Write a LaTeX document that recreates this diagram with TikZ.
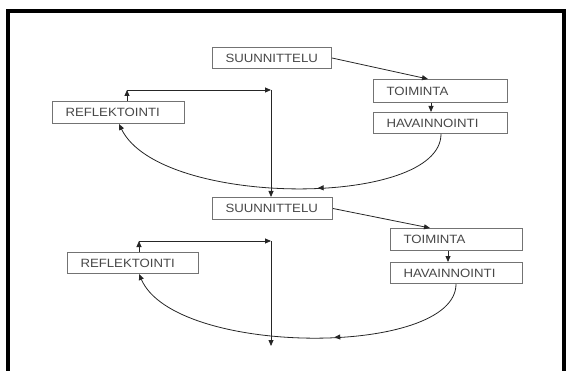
\documentclass[tikz,border=0pt]{standalone}
\usepackage{fontspec}
\setmainfont[FakeStretch=1.1]{Liberation Sans}
\usetikzlibrary{arrows.meta,decorations.markings,calc}
\begin{document}
\begin{tikzpicture}[x=1pt,y=-1pt,
  box/.style={draw=black!55, line width=1pt, inner xsep=13pt, inner ysep=0pt,
    anchor=north west, align=left, font=\fontsize{12}{14}\selectfont, text=black!72},
  arr/.style={draw=black!85, line width=0.8pt, -{Triangle[length=6pt,width=5pt]}},
  midarr/.style={postaction={decorate}, decoration={markings,
    mark=at position #1 with {\arrow{Triangle[length=6pt,width=5pt]}}}}
]
\useasboundingbox (0,0) rectangle (572,371);
\draw[line width=4pt] (7.5,385) -- (7.5,11) -- (564,11) -- (564,385);

% first cycle
\node[box, text width=93pt, minimum height=21pt] (S1) at (212,47) {SUUNNITTELU};
\node[box, text width=108pt, minimum height=23pt] (T1) at (373,79) {TOIMINTA};
\node[box, text width=108pt, minimum height=21pt] (H1) at (373,112) {HAVAINNOINTI};
\node[box, text width=106pt, minimum height=22pt] (R1) at (52,101) {REFLEKTOINTI};

% second cycle
\node[box, text width=94pt, minimum height=22pt] (S2) at (212,197) {SUUNNITTELU};
\node[box, text width=106pt, minimum height=22pt] (T2) at (390,228) {TOIMINTA};
\node[box, text width=106pt, minimum height=21pt] (H2) at (390,262) {HAVAINNOINTI};
\node[box, text width=105pt, minimum height=21pt] (R2) at (67,252) {REFLEKTOINTI};

\coordinate (c1) at (127,90);
\coordinate (c2) at (271,90);
\coordinate (c3) at (139,241);
\coordinate (c4) at (271,241);
\coordinate (e2) at (271,346);

% connectors, first cycle
\draw[arr] (S1.east) -- ($(T1.north west)+(55,0)$);
\draw[arr] ($(T1.south west)+(58,0)$) -- ($(H1.north west)+(58,0)$);
\draw[arr, midarr=0.4] ($(H1.south west)+(68,0)$) .. controls (441,208) and (160,208) .. ($(R1.south west)+(67,0)$);
\draw[arr] (R1.north -| c1) -- (c1);
\draw[arr] (c1) -- (c2);
\draw[arr] (c2) -- (c2 |- S2.north);

% connectors, second cycle
\draw[arr] (S2.east) -- ($(T2.north west)+(40,0)$);
\draw[arr] ($(T2.south west)+(58,0)$) -- ($(H2.north west)+(58,0)$);
\draw[arr, midarr=0.4] ($(H2.south west)+(66,0)$) .. controls (456,357) and (175,357) .. ($(R2.south west)+(72,0)$);
\draw[arr] (R2.north -| c3) -- (c3);
\draw[arr] (c3) -- (c4);
\draw[arr] (c4) -- (e2);
\end{tikzpicture}
\end{document}
